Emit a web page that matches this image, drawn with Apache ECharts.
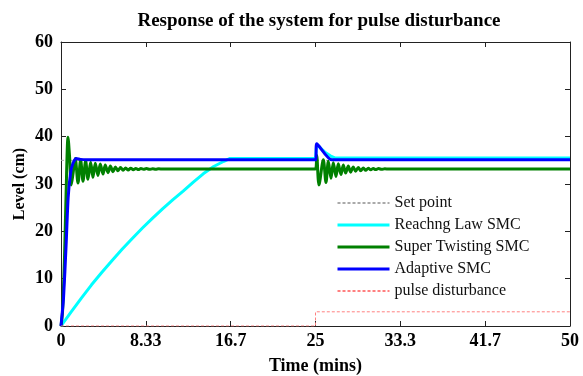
<!DOCTYPE html>
<html>
<head>
<meta charset="utf-8">
<script src="https://cdn.jsdelivr.net/npm/echarts@6/dist/echarts.min.js"></script>
<style>
html,body{margin:0;padding:0;background:#fff;}
#chart{width:583px;height:376px;}
</style>
</head>
<body>
<div id="chart"></div>
<script>
// ---- data ----
var xTickLabels = ['0', '8.33', '16.7', '25', '33.3', '41.7', '50'];
var yTickLabels = ['0', '10', '20', '30', '40', '50', '60'];

var setPointT = [0, 50];
var setPointV = [35, 35];

var reachingT = [0, 1, 2, 3, 4, 5, 6, 7, 8, 9, 10, 11, 12, 13, 14, 15, 16, 16.6, 25, 25.12, 25.5, 26, 26.5, 26.9, 50];
var reachingV = [0, 3.0, 5.9, 8.7, 11.3, 13.8, 16.2, 18.5, 20.7, 22.8, 24.8, 26.7, 28.5, 30.4, 32.2, 33.7, 34.8, 35.4, 35.4, 38.4, 37.6, 36.6, 35.9, 35.5, 35.5];

var superT = [0, 0.15, 0.35, 0.5, 0.69, 0.85, 1.01, 1.2, 1.4, 1.67, 1.93, 2.16, 2.42, 2.65, 2.91, 3.14, 3.37, 3.63, 3.86, 4.13, 4.35, 4.62, 4.85, 5.11, 5.34, 5.6, 5.85, 6.1, 6.35, 6.6, 6.85, 7.1, 7.35, 7.6, 7.85, 8.1, 8.4, 8.7, 9.0, 9.3, 9.6, 10.0, 25.0, 25.12, 25.34, 25.77, 26.03, 26.26, 26.52, 26.75, 27.01, 27.24, 27.5, 27.73, 27.96, 28.22, 28.45, 28.71, 28.94, 29.2, 29.44, 29.7, 29.93, 30.19, 30.42, 30.68, 30.9, 31.2, 31.5, 31.8, 32.2, 50];
var superV = [0, 3, 15, 28, 39.9, 35.5, 29.8, 32.5, 35.4, 30.2, 35.1, 30.6, 34.9, 31.0, 34.6, 31.4, 34.4, 31.8, 34.2, 32.1, 34.0, 32.4, 33.8, 32.6, 33.6, 32.8, 33.5, 32.9, 33.4, 32.95, 33.35, 33.0, 33.3, 33.05, 33.25, 33.1, 33.25, 33.1, 33.2, 33.12, 33.2, 33.15, 33.15, 36.0, 29.8, 35.1, 30.3, 34.8, 31.2, 34.5, 31.6, 34.3, 32.0, 34.0, 32.3, 33.8, 32.5, 33.6, 32.7, 33.5, 32.8, 33.4, 32.9, 33.35, 33.0, 33.3, 33.05, 33.25, 33.1, 33.2, 33.15, 33.15];

var adaptiveT = [0, 0.25, 0.5, 0.7, 0.95, 1.2, 1.5, 1.9, 2.5, 25, 25.12, 26.6, 50];
var adaptiveV = [0, 6, 17, 27, 32.5, 34.5, 35.4, 35.2, 35.1, 35.1, 38.5, 35.1, 35.1];

var pulseT = [0, 25, 25, 50];
var pulseV = [0, 0, 3, 3];

var seriesNames = ['Set point', 'Reachng Law SMC', 'Super Twisting SMC', 'Adaptive SMC', 'pulse disturbance'];

function pairs(t, v) {
  var out = [];
  for (var i = 0; i < t.length; i++) out.push([t[i], v[i]]);
  return out;
}

var serif = '"Liberation Serif", "Times New Roman", serif';
var axisColor = '#222';
var xInterval = 50 / 6;

var chart = echarts.init(document.getElementById('chart'), null, {renderer: 'canvas'});

function baseX(pos, showLabel) {
  return {
    type: 'value', min: 0, max: 50, interval: xInterval, position: pos,
    axisLine: {show: true, onZero: false, lineStyle: {color: axisColor, width: 1}},
    axisTick: {show: true, inside: true, length: 5, lineStyle: {color: axisColor}},
    splitLine: {show: false},
    axisLabel: {
      show: showLabel, margin: 6, color: '#000', fontFamily: serif, fontWeight: 'bold', fontSize: 18,
      formatter: function (v) { return xTickLabels[Math.round(v / xInterval)]; }
    }
  };
}
function baseY(pos, showLabel) {
  return {
    type: 'value', min: 0, max: 60, interval: 10, position: pos,
    axisLine: {show: true, onZero: false, lineStyle: {color: axisColor, width: 1}},
    axisTick: {show: true, inside: true, length: 5, lineStyle: {color: axisColor}},
    splitLine: {show: false},
    axisLabel: {
      show: showLabel, margin: 8, color: '#000', fontFamily: serif, fontWeight: 'bold', fontSize: 18,
      formatter: function (v) { return yTickLabels[Math.round(v / 10)]; }
    }
  };
}

var x0 = baseX('bottom', true);
x0.name = 'Time (mins)';
x0.nameLocation = 'middle';
x0.nameGap = 31;
x0.nameMoveOverlap = false;
x0.nameTextStyle = {color: '#000', fontFamily: serif, fontWeight: 'bold', fontSize: 18};
var y0 = baseY('left', true);
y0.name = 'Level (cm)';
y0.nameLocation = 'middle';
y0.nameGap = 33;
y0.nameMoveOverlap = false;
y0.nameTextStyle = {color: '#000', fontFamily: serif, fontWeight: 'bold', fontSize: 16};

var legendData = seriesNames.map(function (n, i) {
  var item = {name: n};
  if (i >= 1 && i <= 3) item.lineStyle = {width: 3};
  return item;
});

var option = {
  animation: false,
  backgroundColor: '#fff',
  title: {
    text: 'Response of the system for pulse disturbance',
    left: 314, top: 7, textAlign: 'center',
    textStyle: {color: '#000', fontFamily: serif, fontWeight: 'bold', fontSize: 19}
  },
  grid: {left: 61, right: 13, top: 42, bottom: 50, containLabel: false, outerBoundsMode: 'none'},
  xAxis: [x0, baseX('top', false)],
  yAxis: [y0, baseY('right', false)],
  legend: {
    orient: 'vertical', left: 336, top: 195, padding: 0,
    itemWidth: 52, itemHeight: 14, itemGap: 6, selectedMode: false,
    data: legendData,
    itemStyle: {opacity: 0, borderWidth: 0},
    textStyle: {color: '#111', fontFamily: serif, fontSize: 16}
  },
  series: [
    {name: seriesNames[0], type: 'line', symbol: 'none', data: pairs(setPointT, setPointV),
      lineStyle: {color: '#aaaaaa', width: 1, type: [3, 2]}, itemStyle: {color: '#aaaaaa'}},
    {name: seriesNames[1], type: 'line', symbol: 'none', data: pairs(reachingT, reachingV),
      lineStyle: {color: '#00ffff', width: 3}, itemStyle: {color: '#00ffff'}},
    {name: seriesNames[2], type: 'line', symbol: 'none', smooth: 0.3, data: pairs(superT, superV),
      lineStyle: {color: '#008000', width: 3}, itemStyle: {color: '#008000'}},
    {name: seriesNames[3], type: 'line', symbol: 'none', smooth: 0.2, data: pairs(adaptiveT, adaptiveV),
      lineStyle: {color: '#0000ff', width: 3}, itemStyle: {color: '#0000ff'}},
    {name: seriesNames[4], type: 'line', symbol: 'none', data: pairs(pulseT, pulseV),
      lineStyle: {color: '#ff8080', width: 1, type: [3, 2]}, itemStyle: {color: '#ff8080'}}
  ]
};
chart.setOption(option);
</script>
</body>
</html>
